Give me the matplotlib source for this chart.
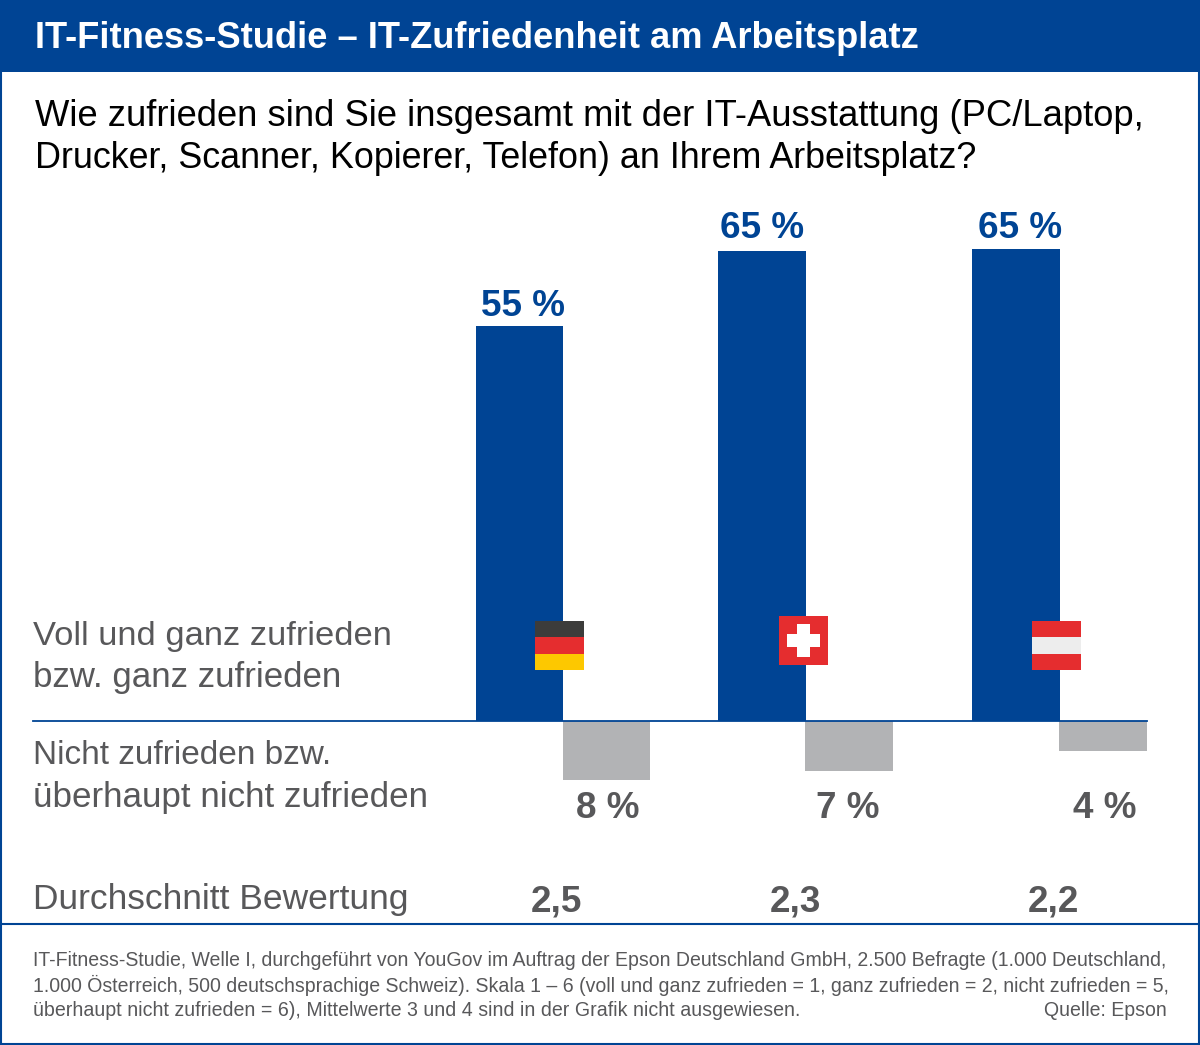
import matplotlib
matplotlib.use("Agg")
import matplotlib.pyplot as plt
from matplotlib.patches import Rectangle

plt.rcParams['font.family'] = ['Liberation Sans', 'DejaVu Sans']

W, H = 1200, 1045
BLUE = '#004494'
GRAY = '#b2b3b5'
DARK = '#58585a'

title = "IT-Fitness-Studie – IT-Zufriedenheit am Arbeitsplatz"
question = ["Wie zufrieden sind Sie insgesamt mit der IT-Ausstattung (PC/Laptop,",
            "Drucker, Scanner, Kopierer, Telefon) an Ihrem Arbeitsplatz?"]
countries = ["Deutschland", "Schweiz", "Österreich"]
pos_labels = [55, 65, 65]
neg_labels = [8, 7, 4]
# bar lengths as drawn in the picture (the printed labels are rounded)
pos_values = [54.9, 65.3, 65.6]
neg_values = [8.2, 6.95, 4.15]
avg_labels = ["2,5", "2,3", "2,2"]
row_lines = ["Voll und ganz zufrieden", "bzw. ganz zufrieden",
             "Nicht zufrieden bzw.", "überhaupt nicht zufrieden",
             "Durchschnitt Bewertung"]
foot_lines = ["IT-Fitness-Studie, Welle I, durchgeführt von YouGov im Auftrag der Epson Deutschland GmbH, 2.500 Befragte (1.000 Deutschland,",
              "1.000 Österreich, 500 deutschsprachige Schweiz). Skala 1 – 6 (voll und ganz zufrieden = 1, ganz zufrieden = 2, nicht zufrieden = 5,",
              "überhaupt nicht zufrieden = 6), Mittelwerte 3 und 4 sind in der Grafik nicht ausgewiesen."]
source = "Quelle: Epson"

fig = plt.figure(figsize=(W/100, H/100), dpi=100)
bg = fig.add_axes([0, 0, 1, 1], zorder=1)
bg.set_xlim(0, W); bg.set_ylim(H, 0); bg.axis('off')

# frame and header
bg.add_patch(Rectangle((1, 1), W-2, H-2, fc='white', ec=BLUE, lw=1.5))
bg.add_patch(Rectangle((0, 0), W, 72, fc=BLUE, ec='none'))
bg.plot([0, W], [924, 924], color=BLUE, lw=1.5)
bg.text(35, 39, title, color='white', fontsize=26.15, fontweight='bold', va='center')
bg.text(35, 116, question[0], color='black', fontsize=26.2, va='center')
bg.text(35, 159, question[1], color='black', fontsize=25.85, va='center')

# bar chart: axis baseline at y=721, 7.2 px per percent
scale = 7.2
base = 721
top = 190
bottom = 800
ax = fig.add_axes([0, 1-bottom/H, 1, (bottom-top)/H], zorder=2)
ax.set_xlim(0, W)
ax.set_ylim(-(bottom-base)/scale, (base-top)/scale)
ax.axis('off')
ax.patch.set_alpha(0)
pos_x = [519.5, 762, 1016]
neg_x = [606.5, 849, 1103]
bw = 87.5
ax.bar(pos_x, pos_values, width=bw, color=BLUE)
ax.bar(neg_x, [-v for v in neg_values], width=bw, color=GRAY)
ax.plot([33, 1147], [0, 0], color=BLUE, lw=1.3)

# overlay for text and flags, above the bars
fg = fig.add_axes([0, 0, 1, 1], zorder=3)
fg.set_xlim(0, W); fg.set_ylim(H, 0); fg.axis('off')
fg.patch.set_alpha(0)

for x, y, lab in zip([523, 762, 1020], [306, 229, 229], pos_labels):
    fg.text(x, y, f"{lab} %", color=BLUE, fontsize=26.6, fontweight='bold', ha='center', va='center')
for x, lab in zip([608, 848, 1105], neg_labels):
    fg.text(x, 808, f"{lab} %", color=DARK, fontsize=26.6, fontweight='bold', ha='center', va='center')
for x, a in zip([556, 795, 1053], avg_labels):
    fg.text(x, 902, a, color=DARK, fontsize=26.6, fontweight='bold', ha='center', va='center')

# row labels
for y, size, line in zip([636, 678, 755, 797, 900], [24.8, 25.1, 24.0, 25.2, 25.5], row_lines):
    fg.text(33, y, line, color=DARK, fontsize=size, va='center')

# flags
for i, c in enumerate(['#3c3c3b', '#e52d2f', '#fdc800']):
    fg.add_patch(Rectangle((535, 621+i*16.33), 49, 16.33, fc=c, ec='none'))
fg.add_patch(Rectangle((779, 616), 49, 49, fc='#e52d2f', ec='none'))
fg.add_patch(Rectangle((797, 624), 13, 33, fc='white', ec='none'))
fg.add_patch(Rectangle((787, 634), 33, 13, fc='white', ec='none'))
for i, c in enumerate(['#e52d2f', '#ededed', '#e52d2f']):
    fg.add_patch(Rectangle((1032, 621+i*16.33), 49, 16.33, fc=c, ec='none'))

# footnote
for y, size, line in zip([961, 985, 1010], [14.07, 14.05, 14.14], foot_lines):
    fg.text(33, y, line, color=DARK, fontsize=size, va='center')
fg.text(1167, 1010, source, color=DARK, fontsize=14.05, va='center', ha='right')

fig.savefig('out.png', dpi=100)
